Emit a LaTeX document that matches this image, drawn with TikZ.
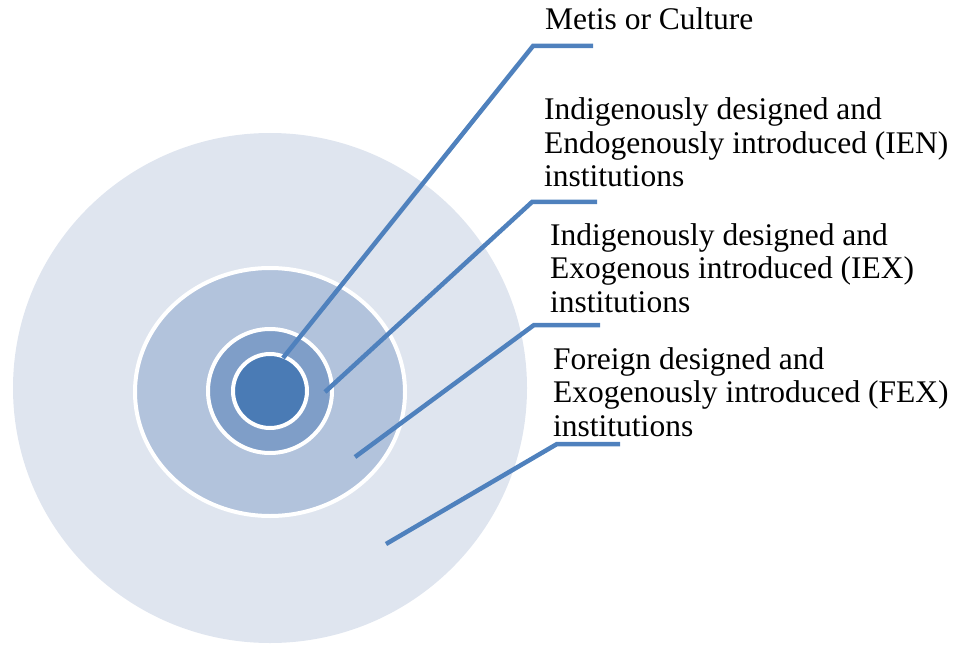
\documentclass[tikz,border=0pt]{standalone}
\usepackage{fontspec}
\setmainfont{Liberation Serif}
\definecolor{ringA}{HTML}{DFE5EF}
\definecolor{ringB}{HTML}{B2C3DC}
\definecolor{ringC}{HTML}{7F9EC8}
\definecolor{ringD}{HTML}{4A7BB5}
\definecolor{lead}{HTML}{4F81BD}
\begin{document}
\begin{tikzpicture}[x=1pt,y=-1pt,
  ringline/.style={draw=white,line width=4pt},
  leader/.style={draw=lead,line width=4.5pt},
  lbl/.style={anchor=base west,inner sep=0pt,align=left,font=\fontsize{31.5}{33.5}\selectfont}]
\useasboundingbox (0,0) rectangle (958,647);
% rings
\fill[ringA] (270,388) ellipse [x radius=257, y radius=255];
\filldraw[ringB,ringline] (270,392) ellipse [x radius=135, y radius=124];
\filldraw[ringC,ringline] (270,391) circle [radius=62];
\filldraw[ringD,ringline] (270,391) circle [radius=37];
% labels (base anchor = baseline of last line)
\node[lbl] (metis) at (545,30) {Metis or Culture};
\node[lbl] (ien) at (544,187) {Indigenously designed and\\Endogenously introduced (IEN)\\institutions};
\node[lbl] (iex) at (550,312) {Indigenously designed and\\Exogenous introduced (IEX)\\institutions};
\node[lbl] (fex) at (553,436) {Foreign designed and\\Exogenously introduced (FEX)\\institutions};
% leader coordinates
\coordinate (s1) at (283,358); \coordinate (e1) at (533,46); \coordinate (t1) at (593,46);
\coordinate (s2) at (325,392); \coordinate (e2) at (532,202); \coordinate (t2) at (597,202);
\coordinate (s3) at (355,457); \coordinate (e3) at (534,325); \coordinate (t3) at (600,325);
\coordinate (s4) at (386,544); \coordinate (e4) at (557,444); \coordinate (t4) at (620,444);
\draw[leader] (s1) -- (e1) -- (t1);
\draw[leader] (s2) -- (e2) -- (t2);
\draw[leader] (s3) -- (e3) -- (t3);
\draw[leader] (s4) -- (e4) -- (t4);
\end{tikzpicture}
\end{document}
